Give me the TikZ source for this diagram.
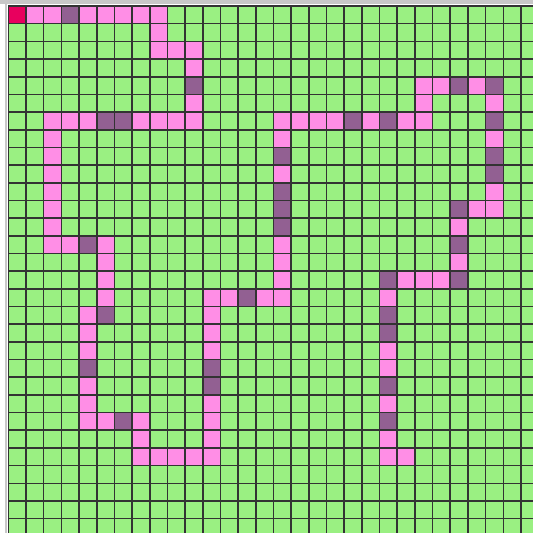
\documentclass[tikz,border=0pt]{standalone}
\usepackage{xcolor}
\usepackage{tikz}

\definecolor{cellgreen}{RGB}{154,240,130}
\definecolor{trailpink}{RGB}{255,142,230}
\definecolor{traildark}{RGB}{146,96,146}
\definecolor{startred}{RGB}{232,0,94}
\definecolor{framegray}{RGB}{200,200,200}

\begin{document}
\begin{tikzpicture}[
  x=5mm, y=-5mm,
  board/.style={fill=cellgreen},
  trail/.style={fill=trailpink},
  shade/.style={fill=traildark},
  origin/.style={fill=startred},
  gridline/.style={draw=black!80, line width=1.3pt},
  ]
  %% Page and frame (the board runs off the right and bottom edge)
  \fill[white] (-0.47,-0.34) rectangle (29.68,29.81);
  \clip (-0.47,-0.34) rectangle (29.68,29.81);
  \fill[framegray] (-0.47,-0.34) rectangle (29.68,-0.12);
  \fill[framegray] (-0.2,-0.12) rectangle (-0.06,29.81);

  %% Board
  \fill[board] (0,0) rectangle (30,30);

  %% Trail, as straight runs: c1/r1/c2/r2
  \foreach \ca/\ra/\cb/\rb in {1/0/8/0, 8/1/8/2, 9/2/10/2, 10/3/10/6,
      2/6/9/6, 2/7/2/13, 3/13/5/13, 5/14/5/17, 4/17/4/23, 5/23/7/23,
      7/24/7/25, 8/25/11/25, 11/16/11/24, 12/16/15/16, 15/6/15/15,
      16/6/23/6, 23/4/23/5, 24/4/27/4, 27/5/27/11, 25/11/26/11,
      25/12/25/15, 21/15/24/15, 21/16/21/25, 22/25/22/25}
    \fill[trail] (\ca,\ra) rectangle (\cb+1,\rb+1);

  %% Darker trail cells
  \foreach \c/\r in {3/0, 10/4, 5/6, 6/6, 4/13, 5/17, 4/20, 6/23,
      11/20, 11/21, 13/16, 15/8, 15/10, 15/11, 15/12, 19/6, 21/6,
      25/4, 27/4, 27/6, 27/8, 27/9, 25/11, 25/13, 25/15, 21/15,
      21/17, 21/18, 21/21, 21/23}
    \fill[shade] (\c,\r) rectangle (\c+1,\r+1);

  %% Start cell
  \fill[origin] (0,0) rectangle (1,1);

  %% Grid lines
  \foreach \k in {0,...,30} {
    \draw[gridline] (\k,0) -- (\k,30);
    \draw[gridline] (0,\k) -- (30,\k);
  }
\end{tikzpicture}
\end{document}
